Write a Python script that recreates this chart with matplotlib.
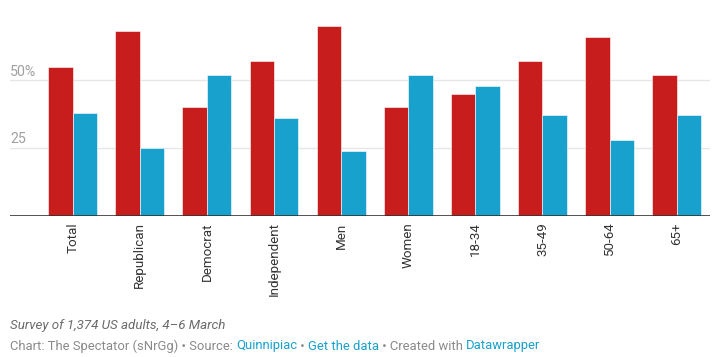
import matplotlib.pyplot as plt
import numpy as np

# values (percent)
categories = ["Total", "Republican", "Democrat", "Independent", "Men",
              "Women", "18-34", "35-49", "50-64", "65+"]
red_values = [55, 68, 40, 57, 70, 40, 45, 57, 66, 52]
blue_values = [38, 25, 52, 36, 24, 52, 48, 37, 28, 37]
y_ticks = [25, 50]
y_tick_labels = ["25", "50%"]

RED = "#c71e1d"
BLUE = "#18a1cd"
INK = "#333333"
MUTED = "#8a8a8a"
GRID = "#e6e6e6"
FONT = ["Roboto", "DejaVu Sans"]

plt.rcParams["font.family"] = FONT

W, H = 719, 357
fig = plt.figure(figsize=(W / 100, H / 100), dpi=100)

# axes box in pixel coordinates
left_px, right_px, top_px, bottom_px = 10, 710, 20, 215.5
ax = fig.add_axes([left_px / W, 1 - bottom_px / H,
                   (right_px - left_px) / W, (bottom_px - top_px) / H])

x = np.arange(len(categories))
bw = 0.364
ax.bar(x - bw / 2, red_values, width=bw, color=RED, edgecolor="white",
       linewidth=0.4, zorder=3)
ax.bar(x + bw / 2, blue_values, width=bw, color=BLUE, edgecolor="white",
       linewidth=0.4, zorder=3)

ax.set_xlim(-0.934, 9.496)
ax.set_ylim(0, 72.2)

for t, lab in zip(y_ticks, y_tick_labels):
    ax.axhline(t, color=GRID, linewidth=1.0, zorder=1)
    ax.text(-0.934, t + 0.5, lab, color="#a0a0a0", fontsize=10.2,
            ha="left", va="bottom", zorder=2)

ax.axhline(0, color=INK, linewidth=1.2, zorder=4)

for s in ax.spines.values():
    s.set_visible(False)
ax.set_xticks([])
ax.set_yticks([])

for xi, cat in zip(x, categories):
    ax.annotate(cat, xy=(xi, 0), xytext=(0, -7), textcoords="offset pixels",
                rotation=90, ha="center", va="top", fontsize=9.6, color=INK)

fig.text(10 / W, 1 - 325 / H, "Survey of 1,374 US adults, 4\u20136 March",
         fontsize=9.6, style="italic", color="#6b6b6b", ha="left", va="center")

parts = [("Chart: The Spectator (sNrGg) \u2022 Source: ", MUTED),
         ("Quinnipiac", BLUE), (" \u2022 ", MUTED), ("Get the data", BLUE),
         (" \u2022 Created with ", MUTED), ("Datawrapper", BLUE)]
fig.canvas.draw()
renderer = fig.canvas.get_renderer()
xpos = 10
for txt, col in parts:
    t = fig.text(xpos / W, 1 - 346 / H, txt, fontsize=9.4, color=col,
                 ha="left", va="center")
    bb = t.get_window_extent(renderer=renderer)
    xpos += bb.width

fig.savefig("out.png", dpi=100, facecolor="white")
